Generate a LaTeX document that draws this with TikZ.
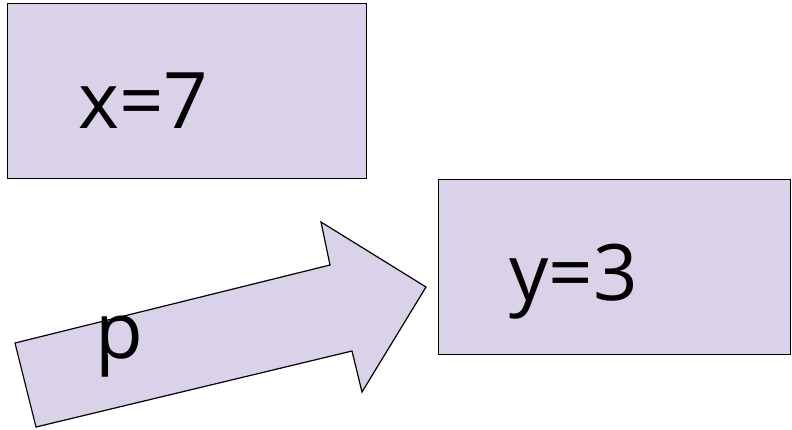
\documentclass[tikz,border=0pt]{standalone}
\usepackage{fontspec}
\setmainfont{Open Sans}
\definecolor{boxfill}{HTML}{D9D2E9}
\begin{document}
\begin{tikzpicture}[x=1pt,y=-1pt,
  varbox/.style={draw=black,fill=boxfill,line width=1.2pt,inner sep=0pt,anchor=north west},
  bigtext/.style={inner sep=0pt,anchor=base west,font=\fontsize{78}{80}\selectfont}]
\useasboundingbox (0,0) rectangle (792,429);
\node[varbox,minimum width=359pt,minimum height=175pt] (bx) at (7,3) {};
\node[varbox,minimum width=352pt,minimum height=175pt] (by) at (438,179) {};
\node[bigtext] (tx) at (78,128) {x=7};
\node[bigtext] (ty) at (509,300) {y=3};
\draw[fill=boxfill,line width=1.2pt,line join=miter]
  (15,343) -- (330,265) -- (321,222) -- (426,287) -- (362,392) -- (352,351) -- (36,427) -- cycle;
\node[bigtext] (tp) at (95,358) {p};
\end{tikzpicture}
\end{document}
